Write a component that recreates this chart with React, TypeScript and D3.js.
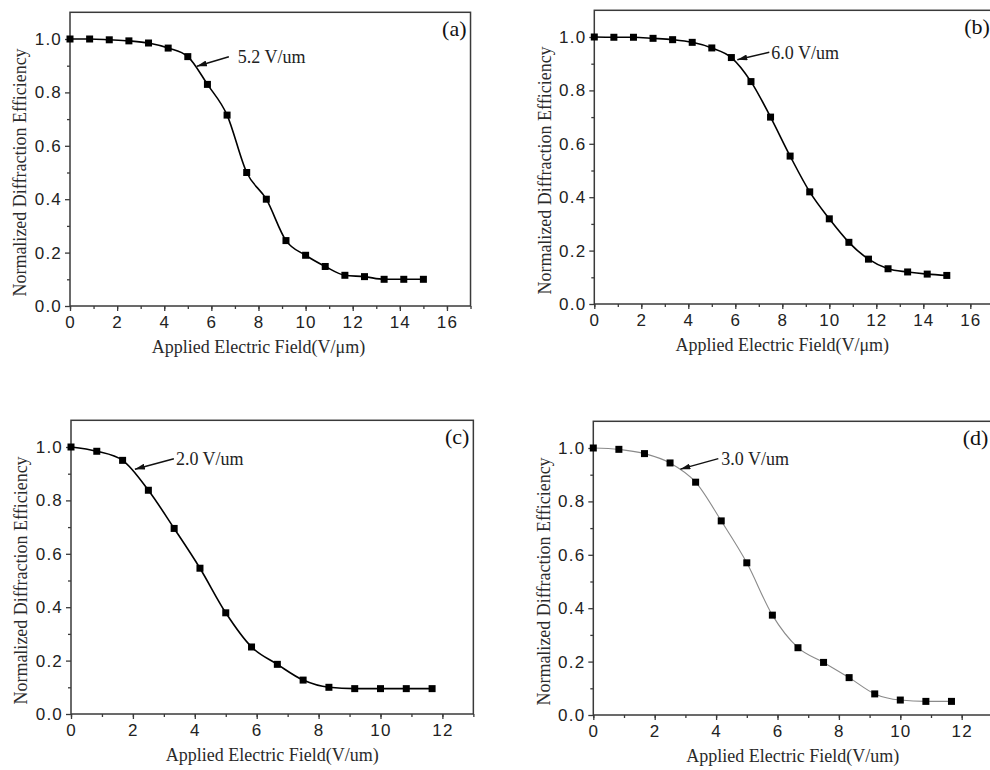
import React, { useEffect, useRef } from "react";
import * as d3 from "d3";

// applied field steps (V/um)
const fieldAB = [0, 0.833, 1.667, 2.5, 3.333, 4.167, 5, 5.833, 6.667, 7.5, 8.333, 9.167, 10, 10.833, 11.667, 12.5, 13.333, 14.167, 15];
const fieldCD = [0, 0.833, 1.667, 2.5, 3.333, 4.167, 5, 5.833, 6.667, 7.5, 8.333, 9.167, 10, 10.833, 11.667];

// normalized diffraction efficiency
const effA = [1.0, 1.0, 0.997, 0.993, 0.985, 0.966, 0.934, 0.83, 0.715, 0.5, 0.4, 0.245, 0.19, 0.148, 0.115, 0.11, 0.1, 0.1, 0.1];
const effB = [1.0, 0.999, 0.999, 0.995, 0.99, 0.98, 0.959, 0.923, 0.833, 0.7, 0.554, 0.42, 0.319, 0.231, 0.168, 0.132, 0.12, 0.112, 0.107];
const effC = [1.0, 0.984, 0.95, 0.838, 0.695, 0.546, 0.379, 0.251, 0.186, 0.127, 0.1, 0.095, 0.095, 0.095, 0.095];
const effD = [1.0, 0.995, 0.979, 0.944, 0.872, 0.727, 0.57, 0.374, 0.252, 0.197, 0.14, 0.079, 0.056, 0.051, 0.051];

const xTicksAB = [0, 2, 4, 6, 8, 10, 12, 14, 16];
const xTicksCD = [0, 2, 4, 6, 8, 10, 12];
const yTicks = [0, 0.2, 0.4, 0.6, 0.8, 1.0];

const panelTags = ["(a)", "(b)", "(c)", "(d)"];
const thresholdLabels = ["5.2 V/um", "6.0 V/um", "2.0 V/um", "3.0 V/um"];
// where each arrow points (field, efficiency)
const thresholdField = [5.3, 6.0, 2.0, 2.77];
const thresholdEff = [0.896, 0.913, 0.915, 0.919];

const xTitles = [
  "Applied Electric Field(V/\u03bcm)",
  "Applied Electric Field(V/\u03bcm)",
  "Applied Electric Field(V/um)",
  "Applied Electric Field(V/um)",
];
const yTitle = "Normalized Diffraction Efficiency";

const panels = [
  { field: fieldAB, eff: effA, ticks: xTicksAB, xMax: 17, left: 70, unit: 23.56, bottom: 306, mid: 8, arrow: [34, -10], gap: 9, line: "#000", lw: 1.6 },
  { field: fieldAB, eff: effB, ticks: xTicksAB, xMax: 17, left: 594.3, unit: 23.5, bottom: 304, mid: 8, arrow: [34, -8], gap: 2, line: "#000", lw: 1.6 },
  { field: fieldCD, eff: effC, ticks: xTicksCD, xMax: 13, left: 71, unit: 30.95, bottom: 714, mid: 6.5, arrow: [41, -11], gap: 2, line: "#000", lw: 1.6 },
  { field: fieldCD, eff: effD, ticks: xTicksCD, xMax: 13, left: 593.3, unit: 30.7, bottom: 715, mid: 6.5, arrow: [40, -11], gap: 3, line: "#8a8a8a", lw: 1.1 },
];

const W = 990,
  H = 770;

const App = () => {
  const ref = useRef<SVGSVGElement | null>(null);

  useEffect(() => {
    drawChart();
    return () => {};
  }, []);

  const drawChart = () => {
    const svg = d3.select(ref.current);
    svg.selectAll("*").remove();

    svg
      .append("defs")
      .append("marker")
      .attr("id", "arrowhead")
      .attr("markerUnits", "userSpaceOnUse")
      .attr("viewBox", "0 0 10 6")
      .attr("refX", 10)
      .attr("refY", 3)
      .attr("markerWidth", 10)
      .attr("markerHeight", 6)
      .attr("orient", "auto")
      .append("path")
      .attr("d", "M0,0 L10,3 L0,6 Z")
      .attr("fill", "#111");

    panels.forEach((p, i) => {
      const x = d3
        .scaleLinear()
        .domain([0, p.xMax])
        .range([p.left, p.left + p.xMax * p.unit]);
      const y = d3
        .scaleLinear()
        .domain([0, 1.1])
        .range([p.bottom, p.bottom - 1.1 * 267]);

      const g = svg.append("g");
      const [x0, x1] = x.range();
      const [y0, y1] = y.range();

      // frame
      g.append("rect")
        .attr("x", x0)
        .attr("y", y1)
        .attr("width", x1 - x0)
        .attr("height", y0 - y1)
        .attr("fill", "none")
        .attr("stroke", "#3a3a3a")
        .attr("stroke-width", 1.5);

      // minor ticks
      g.append("g")
        .attr("transform", `translate(0,${y0})`)
        .call(d3.axisBottom(x).tickValues(d3.range(0, p.xMax + 1, 1)).tickSize(3).tickFormat(() => ""))
        .call((a) => a.select(".domain").remove());
      g.append("g")
        .attr("transform", `translate(${x0},0)`)
        .call(d3.axisLeft(y).tickValues(d3.range(0.1, 1.1, 0.2)).tickSize(3).tickFormat(() => ""))
        .call((a) => a.select(".domain").remove());

      // major ticks
      const tickFont = (a: any) =>
        a
          .selectAll("text")
          .attr("font-family", "'Liberation Sans', Arial, sans-serif")
          .attr("font-size", 17)
          .attr("letter-spacing", 1.2)
          .attr("fill", "#222");

      g.append("g")
        .attr("transform", `translate(0,${y0})`)
        .call(d3.axisBottom(x).tickValues(p.ticks).tickSize(5).tickPadding(5).tickFormat(d3.format("d")))
        .call((a) => a.select(".domain").remove())
        .call(tickFont);
      g.append("g")
        .attr("transform", `translate(${x0},0)`)
        .call(d3.axisLeft(y).tickValues(yTicks).tickSize(5).tickPadding(3).tickFormat(d3.format(".1f")))
        .call((a) => a.select(".domain").remove())
        .call(tickFont);

      g.selectAll(".tick line").attr("stroke", "#3a3a3a").attr("stroke-width", 1.3);

      // series
      const pts = p.field.map((f, k) => [f, p.eff[k]] as [number, number]);
      const line = d3
        .line<[number, number]>()
        .x((d) => x(d[0]))
        .y((d) => y(d[1]))
        .curve(d3.curveMonotoneX);
      g.append("path")
        .attr("d", line(pts))
        .attr("fill", "none")
        .attr("stroke", p.line)
        .attr("stroke-width", p.lw);

      const sq = 7;
      g.selectAll("rect.pt")
        .data(pts)
        .join("rect")
        .attr("class", "pt")
        .attr("x", (d) => x(d[0]) - sq / 2)
        .attr("y", (d) => y(d[1]) - sq / 2)
        .attr("width", sq)
        .attr("height", sq)
        .attr("fill", "#000");

      // threshold arrow + label
      const tx = x(thresholdField[i]);
      const ty = y(thresholdEff[i]);
      g.append("line")
        .attr("x1", tx + p.arrow[0])
        .attr("y1", ty + p.arrow[1])
        .attr("x2", tx + 2)
        .attr("y2", ty - 0.5)
        .attr("stroke", "#111")
        .attr("stroke-width", 1.5)
        .attr("marker-end", "url(#arrowhead)");
      g.append("text")
        .attr("x", tx + p.arrow[0] + p.gap)
        .attr("y", ty + p.arrow[1])
        .attr("dy", "0.35em")
        .attr("font-family", "'Liberation Serif', 'Times New Roman', serif")
        .attr("font-size", 18)
        .attr("fill", "#222")
        .text(thresholdLabels[i]);

      // panel tag
      g.append("text")
        .attr("x", x1 - 4)
        .attr("y", y1 + 24)
        .attr("text-anchor", "end")
        .attr("font-family", "'Liberation Serif', 'Times New Roman', serif")
        .attr("font-size", 22)
        .attr("fill", "#111")
        .text(panelTags[i]);

      // axis titles
      g.append("text")
        .attr("x", x(p.mid))
        .attr("y", y0 + 47)
        .attr("text-anchor", "middle")
        .attr("font-family", "'Liberation Serif', 'Times New Roman', serif")
        .attr("font-size", 18)
        .attr("fill", "#2a2a2a")
        .text(xTitles[i]);
      g.append("text")
        .attr("transform", `translate(${x0 - 50},${y(0.5)}) rotate(-90)`)
        .attr("text-anchor", "middle")
        .attr("dy", "0.35em")
        .attr("font-family", "'Liberation Serif', 'Times New Roman', serif")
        .attr("font-size", 18)
        .attr("fill", "#2a2a2a")
        .text(yTitle);
    });
  };

  return (
    <svg
      ref={ref}
      width={W}
      height={H}
      style={{ position: "absolute", left: 0, top: 0, background: "#fff", display: "block" }}
    />
  );
};

export default App;
